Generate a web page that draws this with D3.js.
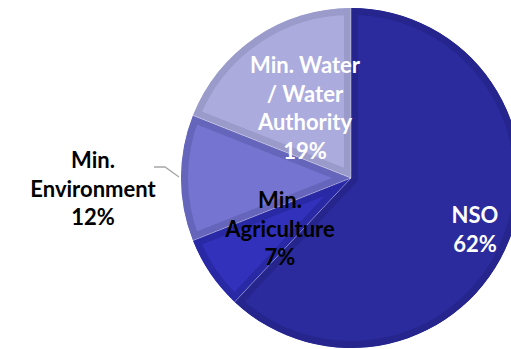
<!DOCTYPE html>
<html>
<head>
<meta charset="utf-8">
<script src="https://cdn.jsdelivr.net/npm/d3@7"></script>
<style>
  html, body { margin: 0; padding: 0; background: #fff; overflow: hidden; }
  svg { display: block; }
  text { font-family: Lato, "Open Sans", sans-serif; font-weight: 700; }
</style>
</head>
<body>
<svg id="chart" width="511" height="349"></svg>
<script>
// Shares of responsibility by institution (percent)
const categories = ["NSO", "Min. Agriculture", "Min. Environment", "Min. Water / Water Authority"];
const shares = [62, 7, 12, 19];
// Label lines for each slice (last line is the percentage)
const labelLines = [
  ["NSO"],
  ["Min.", "Agriculture"],
  ["Min.", "Environment"],
  ["Min. Water", "/ Water", "Authority"]
];

const fills   = ["#2b2b9e", "#3131bb", "#7575d1", "#ababdd"];
const borders = ["#25258d", "#2929a6", "#6565bb", "#9b9bcb"];
const labelColors = ["#ffffff", "#000000", "#000000", "#ffffff"];

const W = 511, H = 349;
const cx = 351, cy = 178, R = 170;

const svg = d3.select("#chart");
const defs = svg.append("defs");

const data = categories.map((c, i) => ({ name: c, value: shares[i], i }));
const pie = d3.pie().value(d => d.value).sort(null);
const arcs = pie(data);
const arc = d3.arc().innerRadius(0).outerRadius(R);

// Each slice: flat fill with a darker inner rim (stroke clipped to the slice)
arcs.forEach((a, i) => {
  const id = "clip" + i;
  defs.append("clipPath").attr("id", id)
    .append("path").attr("d", arc(a)).attr("transform", `translate(${cx},${cy})`);
  svg.append("g").attr("clip-path", `url(#${id})`)
    .append("path")
    .attr("transform", `translate(${cx},${cy})`)
    .attr("d", arc(a))
    .attr("fill", fills[i])
    .attr("stroke", borders[i])
    .attr("stroke-width", 14)
    .attr("stroke-linejoin", "miter");
});

// Thin light separators between slices
const sep = svg.append("g").attr("transform", `translate(${cx},${cy})`);
arcs.forEach(a => {
  const ang = a.startAngle;
  sep.append("line")
    .attr("x1", 0).attr("y1", 0)
    .attr("x2", R * Math.sin(ang)).attr("y2", -R * Math.cos(ang))
    .attr("stroke", "rgba(255,255,255,0.35)")
    .attr("stroke-width", 1);
});

// Label positions (relative to pie centre)
const labelPos = [
  [124, 45],
  [-71, 30],
  [-258, -10],
  [-46, -105]
];
const fontSize = 22, lineH = 28.5;

const labels = svg.append("g").attr("transform", `translate(${cx},${cy})`);
arcs.forEach((a, i) => {
  const lines = labelLines[i].concat([d3.format(".0f")(a.data.value) + "%"]);
  const [lx, ly] = labelPos[i];
  const t = labels.append("text")
    .attr("text-anchor", "middle")
    .attr("fill", labelColors[i])
    .attr("font-size", fontSize);
  lines.forEach((s, k) => {
    t.append("tspan").attr("x", lx).attr("y", ly + k * lineH).text(s);
  });
});

// Leader line for the outside label
const env = arcs[2];
const midA = (env.startAngle + env.endAngle) / 2;
const ex = (R + 1) * Math.sin(midA), ey = -(R + 1) * Math.cos(midA);
labels.append("polyline")
  .attr("points", [[-197, -11], [-186, -11], [ex - 1, ey - 1]].map(p => p.join(",")).join(" "))
  .attr("fill", "none")
  .attr("stroke", "#a6a6a6")
  .attr("stroke-width", 1.3);
</script>
</body>
</html>
